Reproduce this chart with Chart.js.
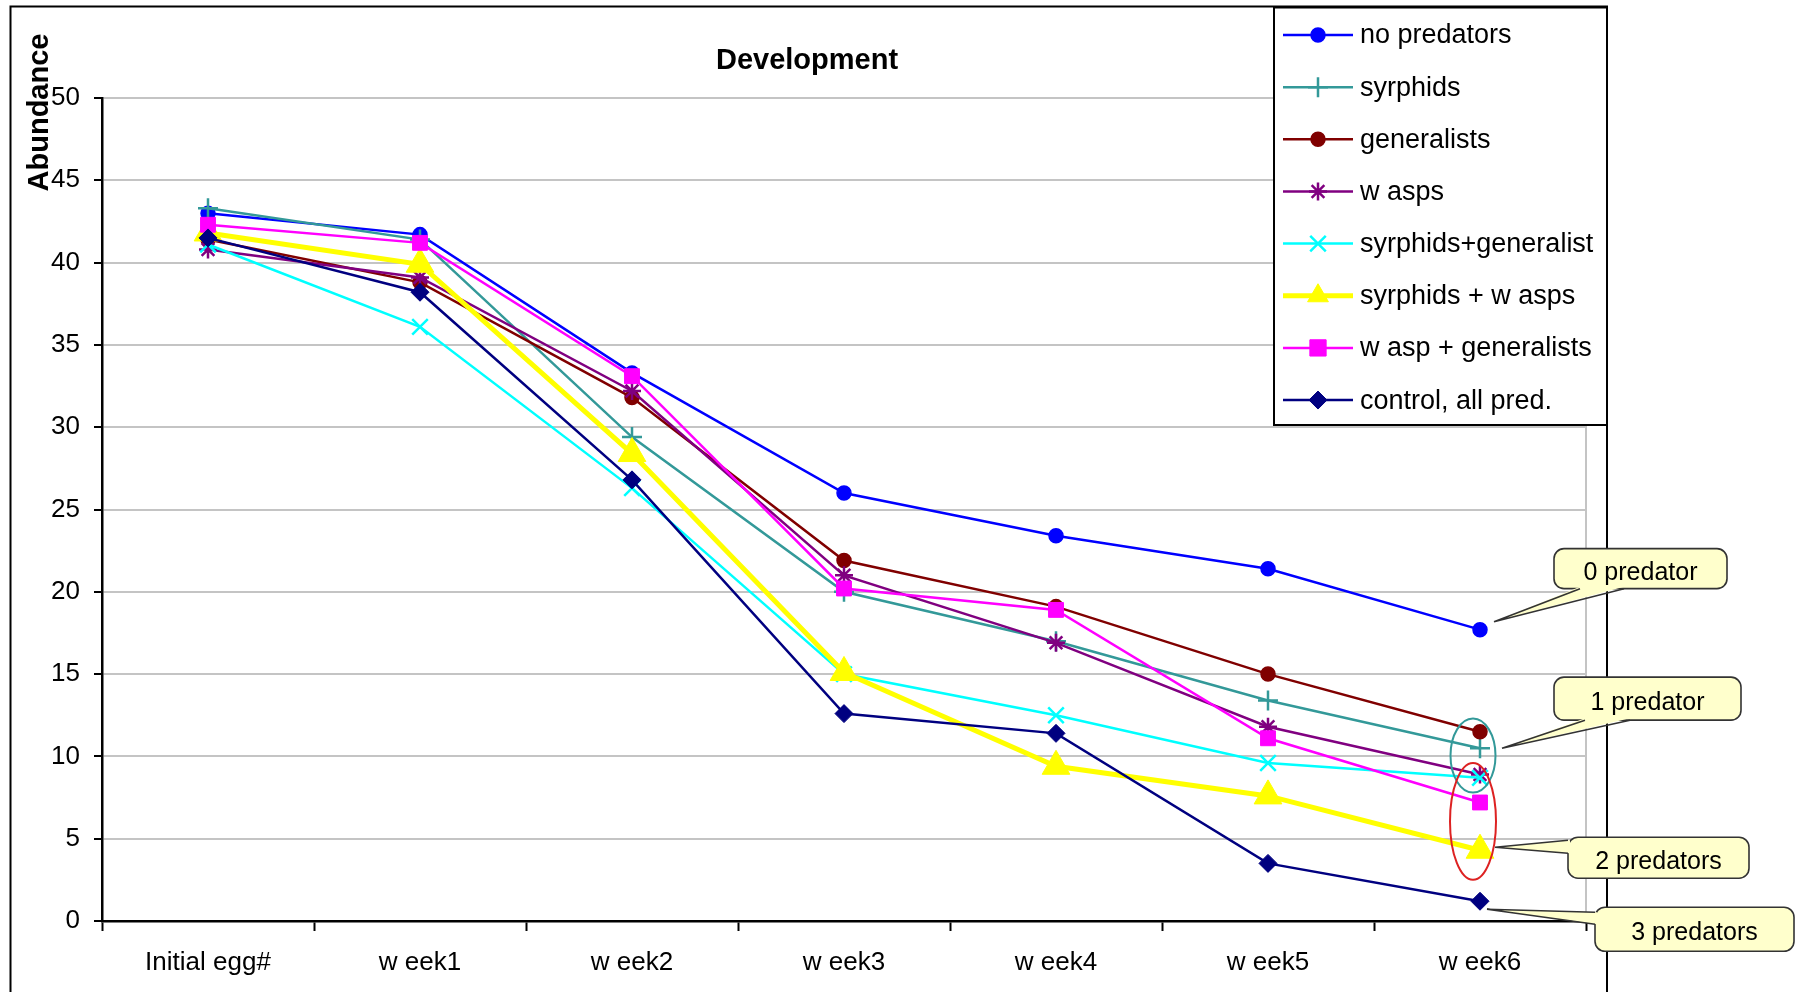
<!DOCTYPE html>
<html>
<head>
<meta charset="utf-8">
<title>Development</title>
<script src="https://cdn.jsdelivr.net/npm/chart.js@4.4.1/dist/chart.umd.min.js"></script>
<style>
  html, body { margin: 0; padding: 0; background: #ffffff; }
  canvas { display: block; }
</style>
</head>
<body>
<canvas id="chart" width="1798" height="992"></canvas>
<script>
// ---- data ----
const categories = ['Initial egg#', 'w eek1', 'w eek2', 'w eek3', 'w eek4', 'w eek5', 'w eek6'];
const yTickValues = [0, 5, 10, 15, 20, 25, 30, 35, 40, 45, 50];

const noPredators        = [43.0, 41.7, 33.3, 26.0, 23.4, 21.4, 17.7];
const syrphids           = [43.3, 41.4, 29.4, 20.0, 17.0, 13.4, 10.5];
const generalists        = [41.4, 38.8, 31.8, 21.9, 19.1, 15.0, 11.5];
const wasps              = [40.8, 39.1, 32.2, 21.0, 16.9, 11.8, 8.9];
const syrphidsGeneralist = [41.1, 36.1, 26.3, 15.0, 12.5, 9.6, 8.7];
const syrphidsWasps      = [41.8, 39.9, 28.4, 15.1, 9.4, 7.6, 4.3];
const waspGeneralists    = [42.3, 41.2, 33.1, 20.2, 18.9, 11.1, 7.2];
const controlAllPred     = [41.5, 38.2, 26.8, 12.6, 11.4, 3.5, 1.2];

const seriesNames = ['no predators', 'syrphids', 'generalists', 'w asps',
  'syrphids+generalist', 'syrphids + w asps', 'w asp + generalists', 'control, all pred.'];
const seriesValues = [noPredators, syrphids, generalists, wasps,
  syrphidsGeneralist, syrphidsWasps, waspGeneralists, controlAllPred];

const calloutTexts = ['0 predator', '1 predator', '2 predators', '3 predators'];

// ---- styles ----
const FONT = "'Liberation Sans', Arial, Helvetica, sans-serif";
const seriesStyles = [
  { color: '#0000FF', point: 'circle',   r: 7,    line: 2.5, pb: 1.5, legendR: 7 },
  { color: '#339999', point: 'cross',    r: 10,   line: 2.5, pb: 2.5, legendR: 10 },
  { color: '#800000', point: 'circle',   r: 7,    line: 2.5, pb: 1.5, legendR: 7 },
  { color: '#800080', point: 'star',     r: 9,    line: 2.5, pb: 2.5, legendR: 9 },
  { color: '#00FFFF', point: 'crossRot', r: 11,   line: 2.5, pb: 2.5, legendR: 11 },
  { color: '#FFFF00', point: 'triangle', r: 16,   line: 5,   pb: 1,   legendR: 12 },
  { color: '#FF00FF', point: 'rect',     r: 10.5, line: 2.5, pb: 1,   legendR: 11.5 },
  { color: '#000080', point: 'rectRot',  r: 9,    line: 2.5, pb: 1,   legendR: 9 }
];

Chart.defaults.font.family = FONT;
Chart.defaults.color = '#000000';

const datasets = seriesNames.map((name, i) => {
  const st = seriesStyles[i];
  return {
    label: name,
    data: seriesValues[i],
    borderColor: st.color,
    backgroundColor: st.color,
    borderWidth: st.line,
    pointStyle: st.point,
    pointRadius: st.r,
    pointBorderWidth: st.pb,
    pointBackgroundColor: st.color,
    pointBorderColor: st.color,
    tension: 0,
    fill: false,
    order: seriesNames.length - 1 - i   // later series on top
  };
});

// simple marker drawing for the legend keys
function drawMarker(ctx, style, x, y, r, lw) {
  if (Chart.helpers && Chart.helpers.drawPoint) {
    Chart.helpers.drawPoint(ctx, { pointStyle: style, radius: r, rotation: 0, borderWidth: lw }, x, y);
    return;
  }
  ctx.beginPath();
  ctx.arc(x, y, r, 0, Math.PI * 2);
  ctx.fill();
}

// frame, titles, plot border
const decorPlugin = {
  id: 'decor',
  beforeDraw(chart) {
    const ctx = chart.ctx;
    ctx.save();
    ctx.fillStyle = '#ffffff';
    ctx.fillRect(0, 0, chart.width, chart.height);
    ctx.strokeStyle = '#000000';
    ctx.lineWidth = 2;
    ctx.strokeRect(10.5, 6.5, 1596.5, 1100);
    ctx.restore();
  },
  beforeDatasetsDraw(chart) {
    const ctx = chart.ctx, a = chart.chartArea;
    ctx.save();
    ctx.strokeStyle = '#C4C4C4';
    ctx.lineWidth = 2;
    ctx.beginPath();
    ctx.moveTo(a.right, a.top);
    ctx.lineTo(a.right, a.bottom);
    ctx.stroke();
    ctx.restore();
  },
  afterDraw(chart) {
    const ctx = chart.ctx;
    ctx.save();
    ctx.fillStyle = '#000000';
    ctx.font = 'bold 29px ' + FONT;
    ctx.textAlign = 'center';
    ctx.textBaseline = 'alphabetic';
    ctx.fillText('Development', 807, 69);
    ctx.translate(48, 112.5);
    ctx.rotate(-Math.PI / 2);
    ctx.fillText('Abundance', 0, 0);
    ctx.restore();
  }
};

// boxed legend in the upper right corner
const legendPlugin = {
  id: 'boxLegend',
  afterDraw(chart) {
    const ctx = chart.ctx;
    const L = { x: 1274, y: 7.5, w: 333, h: 417.5, rowTop: 35, rowGap: 52.15,
                lineX1: 1283, lineX2: 1353, markX: 1318, textX: 1360 };
    ctx.save();
    ctx.fillStyle = '#ffffff';
    ctx.fillRect(L.x, L.y, L.w, L.h);
    ctx.strokeStyle = '#000000';
    ctx.lineWidth = 2;
    ctx.strokeRect(L.x, L.y, L.w, L.h);
    chart.data.datasets.forEach((ds, i) => {
      const st = seriesStyles[i];
      const y = L.rowTop + i * L.rowGap;
      ctx.strokeStyle = st.color;
      ctx.lineWidth = st.line;
      ctx.beginPath();
      ctx.moveTo(L.lineX1, y);
      ctx.lineTo(L.lineX2, y);
      ctx.stroke();
      ctx.fillStyle = st.color;
      ctx.lineWidth = st.pb;
      drawMarker(ctx, st.point, L.markX, y, st.legendR, st.pb);
      ctx.fillStyle = '#000000';
      ctx.font = '27px ' + FONT;
      ctx.textAlign = 'left';
      ctx.textBaseline = 'middle';
      ctx.fillText(ds.label, L.textX, y + 1);
    });
    ctx.restore();
  }
};

// group ellipses and callouts at the last week
const ellipses = [
  { lo: 7.8, hi: 12.3, dx: -7, rx: 22.5, color: '#339999' },
  { lo: 2.5, hi: 9.6,  dx: -7, rx: 23,   color: '#DD2222' }
];
// each callout points at the last value of one series
const callouts = [
  { series: 0, box: [74, -81, 247, -41],   tip: [14, -8],  base: [[100, -41], [144, -41]] },
  { series: 1, box: [74, -71, 261, -28],   tip: [22, 0],   base: [[105, -28], [150, -28]] },
  { series: 5, box: [88, -13, 269, 28],    tip: [15, -3],  base: [[88, -10], [88, 3]] },
  { series: 7, box: [115, 6, 314, 50],     tip: [7, 8],    base: [[115, 11], [115, 23]] }
];

function roundRectPath(ctx, x1, y1, x2, y2, r) {
  ctx.beginPath();
  ctx.moveTo(x1 + r, y1);
  ctx.lineTo(x2 - r, y1);
  ctx.arcTo(x2, y1, x2, y1 + r, r);
  ctx.lineTo(x2, y2 - r);
  ctx.arcTo(x2, y2, x2 - r, y2, r);
  ctx.lineTo(x1 + r, y2);
  ctx.arcTo(x1, y2, x1, y2 - r, r);
  ctx.lineTo(x1, y1 + r);
  ctx.arcTo(x1, y1, x1 + r, y1, r);
  ctx.closePath();
}

const notePlugin = {
  id: 'notes',
  afterDraw(chart) {
    const ctx = chart.ctx;
    const xs = chart.scales.x, ys = chart.scales.y;
    const last = categories.length - 1;
    const px = xs.getPixelForValue(last);
    ctx.save();
    ellipses.forEach(e => {
      const yTop = ys.getPixelForValue(e.hi), yBot = ys.getPixelForValue(e.lo);
      ctx.strokeStyle = e.color;
      ctx.lineWidth = 2;
      ctx.beginPath();
      ctx.ellipse(px + e.dx, (yTop + yBot) / 2, e.rx, (yBot - yTop) / 2, 0, 0, Math.PI * 2);
      ctx.stroke();
    });
    callouts.forEach((c, i) => {
      const py = ys.getPixelForValue(seriesValues[c.series][last]);
      const x1 = px + c.box[0], y1 = py + c.box[1], x2 = px + c.box[2], y2 = py + c.box[3];
      ctx.fillStyle = '#FFFFCC';
      ctx.strokeStyle = '#333333';
      ctx.lineWidth = 1.6;
      roundRectPath(ctx, x1, y1, x2, y2, 10);
      ctx.fill();
      ctx.stroke();
      const tx = px + c.tip[0], ty = py + c.tip[1];
      const b1 = [px + c.base[0][0], py + c.base[0][1]];
      const b2 = [px + c.base[1][0], py + c.base[1][1]];
      // pointer body, nudged into the box to hide the border across its base
      const inx = c.base[0][0] === c.base[1][0] ? 2 : 0;
      const iny = inx ? 0 : -2;
      ctx.beginPath();
      ctx.moveTo(b1[0] + inx, b1[1] + iny);
      ctx.lineTo(tx, ty);
      ctx.lineTo(b2[0] + inx, b2[1] + iny);
      ctx.closePath();
      ctx.fill();
      ctx.beginPath();
      ctx.moveTo(b1[0], b1[1]);
      ctx.lineTo(tx, ty);
      ctx.lineTo(b2[0], b2[1]);
      ctx.stroke();
      ctx.fillStyle = '#000000';
      ctx.font = '25px ' + FONT;
      ctx.textAlign = 'center';
      ctx.textBaseline = 'middle';
      ctx.fillText(calloutTexts[i], (x1 + x2) / 2, (y1 + y2) / 2 + 4);
    });
    ctx.restore();
  }
};

new Chart(document.getElementById('chart'), {
  type: 'line',
  data: { labels: categories, datasets },
  options: {
    responsive: false,
    animation: false,
    devicePixelRatio: 1,
    events: [],
    layout: { padding: { left: 0, top: 98, right: 212, bottom: 0 } },
    plugins: {
      legend: { display: false },
      title: { display: false },
      tooltip: { enabled: false }
    },
    scales: {
      x: {
        offset: true,
        afterFit: s => { s.height = 71; },
        ticks: { color: '#000000', font: { size: 26 }, padding: 16, maxRotation: 0, autoSkip: false },
        grid: { offset: true, drawOnChartArea: false, tickLength: 10, tickColor: '#000000', tickWidth: 2 },
        border: { color: '#000000', width: 2.5 }
      },
      y: {
        min: 0,
        max: 50,
        afterBuildTicks: s => { s.ticks = yTickValues.map(v => ({ value: v })); },
        afterFit: s => { s.width = 102; },
        ticks: { color: '#000000', font: { size: 26 }, padding: 14 },
        grid: { color: '#C4C4C4', lineWidth: 2, tickColor: '#000000', tickLength: 8, tickWidth: 2 },
        border: { color: '#000000', width: 2.5 }
      }
    }
  },
  plugins: [decorPlugin, legendPlugin, notePlugin]
});
</script>
</body>
</html>
